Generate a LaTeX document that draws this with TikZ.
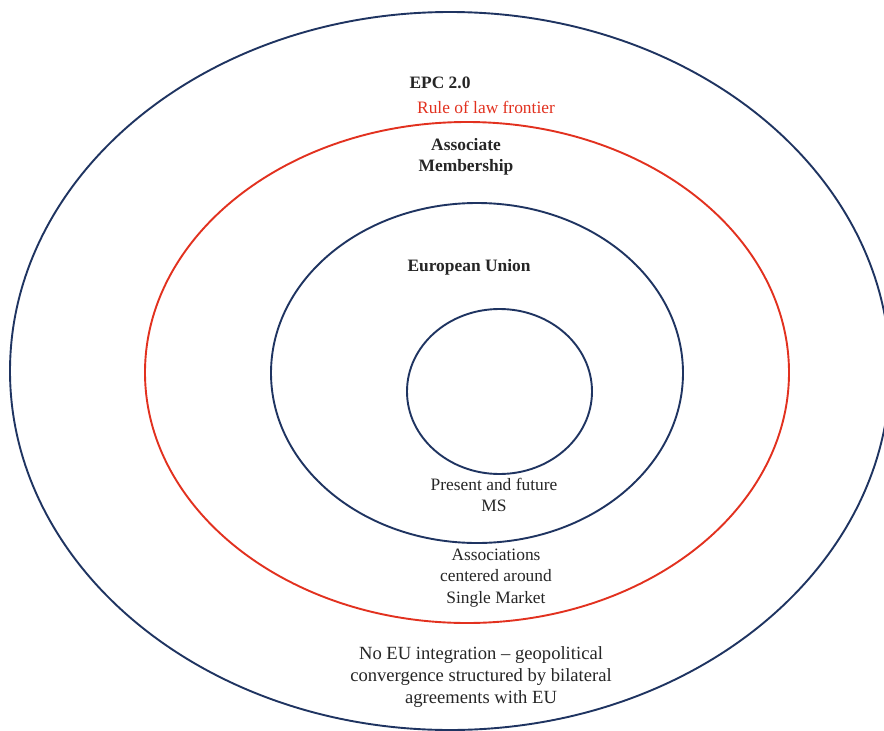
\documentclass[tikz,border=0pt]{standalone}
\usepackage{fontspec}
\setmainfont{Liberation Serif}
\definecolor{navy}{HTML}{1F3461}
\definecolor{rlred}{HTML}{E2311F}
\begin{document}
\begin{tikzpicture}[x=1pt,y=-1pt,
  ring/.style={line width=1.9pt,draw=navy},
  redring/.style={line width=1.9pt,draw=rlred},
  lbl/.style={font=\fontsize{17.4}{21.5}\selectfont,align=center,inner sep=0pt,text=black!85},
  blbl/.style={lbl,font=\fontsize{17.4}{21.5}\selectfont\bfseries}]
\useasboundingbox (0,0) rectangle (884,731);
\clip (0,0) rectangle (884,731);
\fill[white] (0,0) rectangle (884,731);
\draw[ring] (450,371) ellipse [x radius=440pt, y radius=359pt];
\draw[redring] (467,372.5) ellipse [x radius=322pt, y radius=250.5pt];
\draw[ring] (477,373) ellipse [x radius=206pt, y radius=170pt];
\draw[ring] (499.5,391.5) ellipse [x radius=92.5pt, y radius=82.5pt];
\node[blbl] (epc) at (440,83) {EPC 2.0};
\node[lbl,text=rlred] (rol) at (486,107) {Rule of law frontier};
\node[blbl] (assoc) at (466,157) {Associate\\Membership};
\node[blbl] (eu) at (469,267) {European Union};
\node[lbl] (ms) at (494,495) {Present and future\\MS};
\node[lbl] (sm) at (496,578) {Associations\\centered around\\Single Market};
\node[lbl,font=\fontsize{18.6}{21.8}\selectfont] (noeu) at (481,677) {No EU integration -- geopolitical\\convergence structured by bilateral\\agreements with EU};
\end{tikzpicture}
\end{document}
